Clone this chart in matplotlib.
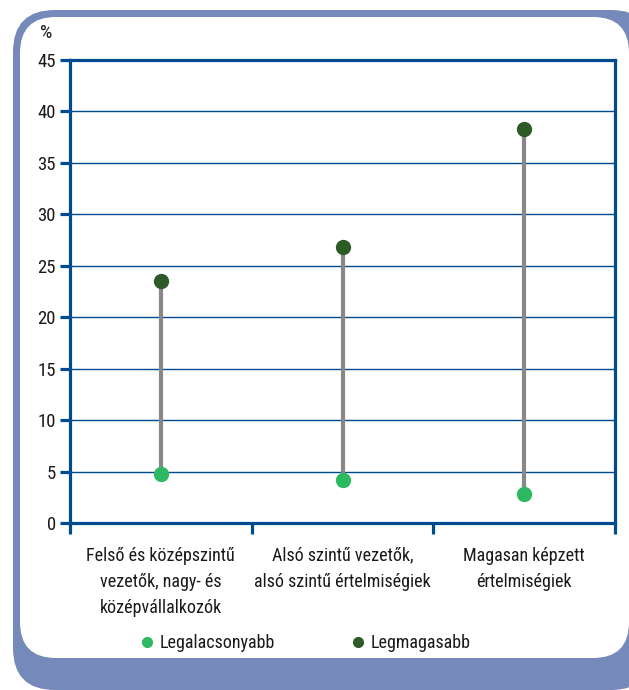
import matplotlib
matplotlib.use("Agg")
from matplotlib import pyplot
from matplotlib.patches import FancyBboxPatch
from matplotlib.lines import Line2D

categories = ["Felső és középszintű\nvezetők, nagy- és\nközépvállalkozók",
              "Alsó szintű vezetők,\nalsó szintű értelmiségiek",
              "Magasan képzett\nértelmiségiek"]
lowest = [4.8, 4.2, 2.8]
highest = [23.5, 26.8, 38.3]
yticks = [0, 5, 10, 15, 20, 25, 30, 35, 40, 45]

font = ["Roboto Condensed", "DejaVu Sans"]
pyplot.rcParams["font.family"] = font
txt = "#1a1a1a"
blue = "#004a8f"
frame = "#7589bb"

fig = pyplot.figure(figsize=(6.29, 6.9), dpi=100)

# rounded frame in pixel coordinates
bg = fig.add_axes([0, 0, 1, 1], zorder=-1)
bg.set_xlim(0, 629)
bg.set_ylim(690, 0)
bg.axis("off")
bg.add_patch(FancyBboxPatch((13, 10), 640, 680, boxstyle="round,pad=0,rounding_size=42",
                            fc=frame, ec="none"))
bg.add_patch(FancyBboxPatch((20, 17), 609, 641, boxstyle="round,pad=0,rounding_size=36",
                            fc="white", ec="none"))

ax = fig.add_axes([70 / 629, 167 / 690, 545 / 629, 463 / 690])
ax.set_xlim(0, 3)
ax.set_ylim(0, 45)
xs = [i + 0.5 for i in range(len(categories))]

for y in yticks[1:-1]:
    ax.axhline(y, color=blue, lw=1.0, zorder=1)

ax.vlines(xs, lowest, highest, color="#888888", lw=3, zorder=2)
ax.scatter(xs, lowest, s=100, color="#2db862", zorder=3, label="Legalacsonyabb")
ax.scatter(xs, highest, s=100, color="#2e5a27", zorder=3, label="Legmagasabb")

for s in ax.spines.values():
    s.set_color(blue)
    s.set_linewidth(2.3)

ax.set_yticks(yticks)
ax.tick_params(axis="y", length=7, width=2.3, color=blue, labelsize=13.5, labelcolor=txt, pad=3)
ax.set_xticks(xs)
ax.set_xticklabels(categories, fontsize=13, color=txt, linespacing=1.58)
ax.tick_params(axis="x", which="major", length=0, pad=17)
ax.set_xticks([0, 1, 2, 3], minor=True)
ax.tick_params(axis="x", which="minor", length=8, width=2.3, color=blue)

fig.text(46 / 629, 1 - 33 / 690, "%", fontsize=14, color=txt, ha="center", va="center")

handles = [Line2D([], [], ls="none", marker="o", ms=7, color=c) for c in ("#2db862", "#2e5a27")]
fig.legend(handles, ["Legalacsonyabb", "Legmagasabb"], loc="center",
           bbox_to_anchor=(306 / 629, 1 - 643 / 690), ncol=2, frameon=False,
           fontsize=13, handlelength=0.6, handletextpad=0.4, columnspacing=4.3,
           labelcolor=txt)

pyplot.savefig("out.png", dpi=100)
